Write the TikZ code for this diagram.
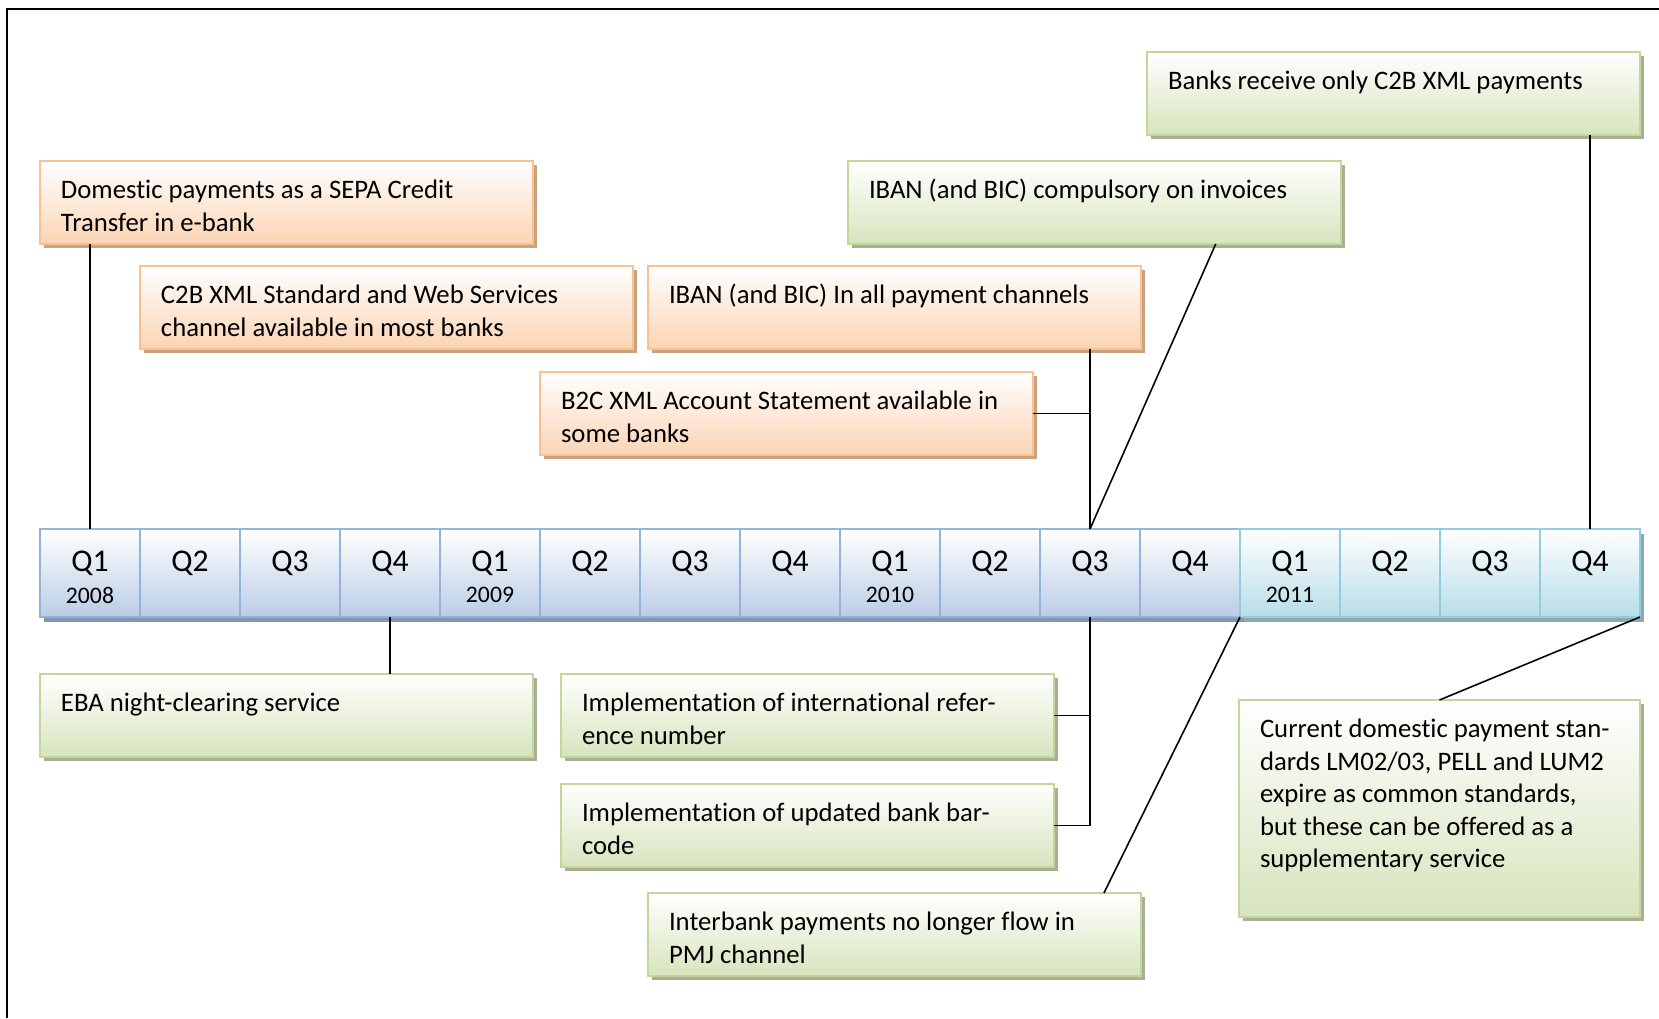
\documentclass[tikz,border=0pt]{standalone}
\usepackage{fontspec}
\setmainfont{Carlito}[Ligatures=NoCommon]
\usetikzlibrary{calc,shadows}

\definecolor{orangeline}{HTML}{FAC090}
\definecolor{orangefill}{HTML}{FBD4B4}
\definecolor{orangeshadow}{HTML}{C9A27F}
\definecolor{greenline}{HTML}{C3D69B}
\definecolor{greenfill}{HTML}{D7E4BD}
\definecolor{greenshadow}{HTML}{A7B092}
\definecolor{blueline}{HTML}{95B3D7}
\definecolor{bluefill}{HTML}{B9CDE5}
\definecolor{blueshadow}{HTML}{8497B0}
\definecolor{tealline}{HTML}{93CDDD}
\definecolor{tealfill}{HTML}{B7DEE8}
\definecolor{tealshadow}{HTML}{8EA9AF}

\tikzset{
  box/.style 2 args={anchor=north west, line width=1.2pt, top color=white,
    inner xsep=0.42cm, inner ysep=0.3cm, outer sep=0pt,
    execute at begin node={\begin{minipage}[c][#2][t]{#1}\fontsize{15.2}{18.5}\selectfont\strut},
    execute at end node={\end{minipage}}},
  note/.style={box={9.02cm}{1.06cm}},
  orangenote/.style={draw=orangeline, bottom color=orangefill,
    general shadow={fill=orangeshadow, shadow xshift=0.08cm, shadow yshift=-0.08cm}},
  greennote/.style={draw=greenline, bottom color=greenfill,
    general shadow={fill=greenshadow, shadow xshift=0.08cm, shadow yshift=-0.08cm}},
  cell/.style={anchor=north west, draw=cellline, line width=1.2pt, top color=white,
    bottom color=cellfill, minimum width=2cm, minimum height=1.76cm, inner sep=0pt, outer sep=0pt},
  qtext/.style={font=\fontsize{18}{20}\selectfont, inner sep=0pt},
  yrtext/.style={font=\fontsize{13.5}{15}\selectfont, inner sep=0pt},
  link/.style={line width=0.9pt}
}

\begin{document}
\begin{tikzpicture}[x=0.02cm,y=-0.02cm]
  \useasboundingbox (0,0) rectangle (1659,1018);
  \draw[line width=0.04cm] (7,1018) -- (7,9) -- (1659,9);

  % quarters
  \fill[blueshadow] (44,534) rectangle (1244,622);
  \fill[tealshadow] (1244,534) rectangle (1644,622);
  \foreach \i in {1,...,16}{
    \pgfmathtruncatemacro\q{mod(\i-1,4)+1}
    \pgfmathtruncatemacro\yr{2008+div(\i-1,4)}
    \ifnum\i>12 \colorlet{cellline}{tealline}\colorlet{cellfill}{tealfill}%
    \else \colorlet{cellline}{blueline}\colorlet{cellfill}{bluefill}\fi
    \node[cell] (c\i) at (40+100*\i-100,529) {};
    \node[qtext] (q\i) at ([yshift=0.2cm]c\i.center) {Q\q};
    \ifnum\q=1 \node[yrtext] (y\i) at ([yshift=-0.44cm]c\i.center) {\yr};\fi
  }

  % above the line
  \node[note,orangenote] (dom) at (40,161) {Domestic payments as a SEPA Credit\\Transfer in e-bank};
  \node[note,orangenote] (c2bxml) at (140,266) {C2B XML Standard and Web Services\\channel available in most banks};
  \node[note,orangenote] (ibanall) at (648,266) {IBAN (and BIC) In all payment channels};
  \node[note,orangenote] (b2c) at (540,372) {B2C XML Account Statement available in\\some banks};
  \node[note,greennote] (banks) at (1147,52) {Banks receive only C2B XML payments};
  \node[note,greennote] (ibaninv) at (848,161) {IBAN (and BIC) compulsory on invoices};

  % below the line
  \node[note,greennote] (eba) at (40,674) {EBA night-clearing service};
  \node[note,greennote] (refno) at (561,674) {Implementation of international refer-\\ence number};
  \node[note,greennote] (barcode) at (561,784) {Implementation of updated bank bar-\\code};
  \node[note,greennote] (pmj) at (648,893) {Interbank payments no longer flow in\\PMJ channel};
  \node[box={7.18cm}{3.74cm},greennote] (stds) at (1239,700) {Current domestic payment stan-\\dards LM02/03, PELL and LUM2\\expire as common standards,\\but these can be offered as a\\supplementary service};

  \draw[link] (dom.south -| c1.north) -- (c1.north);
  \draw[link] (c4.south) -- (c4.south |- eba.north);
  \draw[link] (ibanall.south -| c11.north) -- (c11.north);
  \draw[link] (b2c.east) -- (b2c.east -| c11.north);
  \draw[link] ($(ibaninv.south west)!0.746!(ibaninv.south east)$) -- (c11.north);
  \draw[link] (banks.south -| c16.north) -- (c16.north);
  \draw[link] (c11.south) -- (c11.south |- barcode.east) -- (barcode.east);
  \draw[link] (refno.east) -- (refno.east -| c11.south);
  \draw[link] ($(pmj.north west)!0.925!(pmj.north east)$) -- (c13.south west);
  \draw[link] (stds.north) -- (c16.south east);
\end{tikzpicture}
\end{document}
